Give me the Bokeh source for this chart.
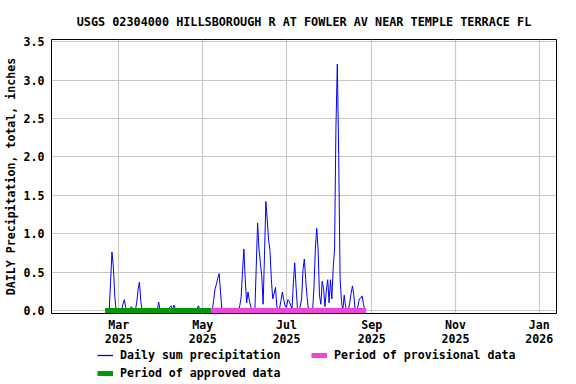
import pandas as pd
from bokeh.plotting import figure
from bokeh.layouts import column
from bokeh.models import FixedTicker, Legend, LegendItem, Range1d, NumeralTickFormatter
from bokeh.embed import file_html
from bokeh.resources import INLINE

# ---- data ----
title_text = "USGS 02304000 HILLSBOROUGH R AT FOWLER AV NEAR TEMPLE TERRACE FL"
y_label = "DAILY Precipitation, total, inches"

record_start = "2025-02-19"
record_end = "2025-08-27"

rain_dates = [
    "2025-02-23", "2025-02-24", "2025-02-25", "2025-02-26",
    "2025-03-04", "2025-03-05", "2025-03-06", "2025-03-10", "2025-03-11",
    "2025-03-14", "2025-03-15", "2025-03-16", "2025-03-17", "2025-03-30",
    "2025-04-07", "2025-04-08", "2025-04-10", "2025-04-11", "2025-04-27", "2025-04-28",
    "2025-05-09", "2025-05-10", "2025-05-11", "2025-05-12", "2025-05-13", "2025-05-14",
    "2025-05-28", "2025-05-29", "2025-05-30", "2025-05-31", "2025-06-01", "2025-06-02",
    "2025-06-03", "2025-06-04", "2025-06-05",
    "2025-06-09", "2025-06-10", "2025-06-11", "2025-06-12", "2025-06-13", "2025-06-14",
    "2025-06-15", "2025-06-16", "2025-06-17", "2025-06-18", "2025-06-19", "2025-06-20",
    "2025-06-21", "2025-06-22", "2025-06-23", "2025-06-24",
    "2025-06-26", "2025-06-27", "2025-06-28", "2025-06-29", "2025-06-30", "2025-07-01",
    "2025-07-02", "2025-07-03", "2025-07-04", "2025-07-05", "2025-07-06", "2025-07-07",
    "2025-07-08", "2025-07-09",
    "2025-07-11", "2025-07-12", "2025-07-13", "2025-07-14", "2025-07-15", "2025-07-16",
    "2025-07-21", "2025-07-22", "2025-07-23", "2025-07-24", "2025-07-25", "2025-07-26",
    "2025-07-27", "2025-07-28", "2025-07-29", "2025-07-30", "2025-07-31", "2025-08-01",
    "2025-08-02", "2025-08-03", "2025-08-04", "2025-08-05", "2025-08-06", "2025-08-07",
    "2025-08-08", "2025-08-09", "2025-08-10", "2025-08-12", "2025-08-13",
    "2025-08-16", "2025-08-17", "2025-08-18", "2025-08-19",
    "2025-08-22", "2025-08-23", "2025-08-24", "2025-08-25", "2025-08-26",
]
rain_values = [
    0.38, 0.76, 0.57, 0.20,
    0.08, 0.14, 0.04, 0.05, 0.03,
    0.10, 0.27, 0.37, 0.12, 0.11,
    0.04, 0.06, 0.07, 0.03, 0.03, 0.06,
    0.13, 0.28, 0.34, 0.42, 0.48, 0.24,
    0.06, 0.17, 0.51, 0.80, 0.40, 0.10,
    0.24, 0.13, 0.05,
    0.57, 1.14, 0.80, 0.62, 0.45, 0.08,
    0.72, 1.42, 1.18, 0.92, 0.78, 0.40,
    0.15, 0.22, 0.30, 0.05,
    0.03, 0.13, 0.24, 0.14, 0.06, 0.04,
    0.14, 0.12, 0.07, 0.02, 0.35, 0.62,
    0.30, 0.02,
    0.05, 0.15, 0.53, 0.67, 0.40, 0.17,
    0.30, 0.80, 1.07, 0.80, 0.20, 0.08,
    0.38, 0.28, 0.05, 0.26, 0.40, 0.10,
    0.40, 0.15, 0.55, 0.80, 2.39, 3.21,
    2.03, 0.43, 0.12, 0.20, 0.05,
    0.10, 0.22, 0.32, 0.20,
    0.05, 0.15, 0.16, 0.19, 0.09,
]

approved_period = ["2025-02-19", "2025-05-07"]
provisional_period = ["2025-05-07", "2025-08-28"]

tick_dates = ["2025-03-01", "2025-05-01", "2025-07-01", "2025-09-01", "2025-11-01", "2026-01-01"]
tick_labels = ["Mar\n2025", "May\n2025", "Jul\n2025", "Sep\n2025", "Nov\n2025", "Jan\n2026"]
y_ticks = [0.0, 0.5, 1.0, 1.5, 2.0, 2.5, 3.0, 3.5]

legend_labels = ["Daily sum precipitation", "Period of approved data", "Period of provisional data"]

x_start, x_end = "2025-01-11", "2026-01-13 12:00"
y_start, y_end = -0.04, 3.53

BLUE, GREEN, PINK = "#0000FF", "#009900", "#EE44DD"

# ---- build daily series ----
daily = pd.Series(0.0, index=pd.date_range(record_start, record_end, freq="D"))
daily.loc[pd.to_datetime(rain_dates)] = rain_values

def ms(d):
    return pd.Timestamp(d).value // 10**6

FONT = "DejaVu Sans Mono"
FS = "11.6px"

p = figure(frame_width=505, frame_height=274, x_axis_type="datetime",
           output_backend="svg", toolbar_location=None,
           x_range=Range1d(ms(x_start), ms(x_end)),
           y_range=Range1d(y_start, y_end),
           min_border_left=43, min_border_right=12, min_border_top=39, min_border_bottom=32)

p.title.text = title_text
p.title.align = "center"
p.title.text_font = FONT
p.title.text_font_size = "11.8px"
p.title.text_font_style = "bold"
p.title.text_color = "black"
p.title.standoff = 21

p.line(daily.index, daily.values, line_color=BLUE, line_width=1)
p.line([pd.Timestamp(d) for d in approved_period], [0, 0], line_color=GREEN, line_width=5)
p.line([pd.Timestamp(d) for d in provisional_period], [0, 0], line_color=PINK, line_width=5)

tick_ms = [ms(d) for d in tick_dates]
p.xaxis.ticker = FixedTicker(ticks=tick_ms)
p.xaxis.major_label_overrides = {t: l for t, l in zip(tick_ms, tick_labels)}
p.yaxis.ticker = FixedTicker(ticks=y_ticks)
p.yaxis.formatter = NumeralTickFormatter(format="0.0")
p.yaxis.axis_label = y_label

for ax in (p.xaxis[0], p.yaxis[0]):
    ax.major_label_text_font = FONT
    ax.major_label_text_font_size = FS
    ax.major_label_text_font_style = "bold"
    ax.major_label_text_color = "black"
    ax.major_label_text_line_height = 1.05
    ax.axis_label_text_font = FONT
    ax.axis_label_text_font_size = FS
    ax.axis_label_text_font_style = "bold"
    ax.axis_label_text_color = "black"
    ax.axis_line_color = None
    ax.major_tick_line_color = None
    ax.minor_tick_line_color = None
    ax.major_tick_out = 0
    ax.major_tick_in = 0
    ax.minor_tick_out = 0
    ax.minor_tick_in = 0
p.xaxis.major_label_standoff = 4
p.yaxis.major_label_standoff = 7
p.yaxis.axis_label_standoff = 3

p.outline_line_color = "black"
p.outline_line_width = 1
p.xgrid.grid_line_color = "#C8C8C8"
p.ygrid.grid_line_color = "#C8C8C8"
p.xgrid.grid_line_width = 1.2
p.ygrid.grid_line_width = 1.2

# ---- legend strip below the chart (swatch renderers lie outside its visible range) ----
lf = figure(width=560, height=31, output_backend="svg", toolbar_location=None,
            x_range=Range1d(0, 1), y_range=Range1d(0, 1),
            x_axis_location=None, y_axis_location=None, min_border=0)
lf.outline_line_color = None
lf.grid.visible = False
r_line = lf.line([5, 6], [5, 5], line_color=BLUE, line_width=1.3)
r_green = lf.line([5, 6], [5, 5], line_color=GREEN, line_width=5)
r_pink = lf.line([5, 6], [5, 5], line_color=PINK, line_width=5)

legend = Legend(items=[
    LegendItem(label=legend_labels[0], renderers=[r_line]),
    LegendItem(label=legend_labels[1], renderers=[r_green]),
    LegendItem(label=legend_labels[2], renderers=[r_pink]),
], orientation="vertical", nrows=2, location=(46, 0))
legend.label_text_font = FONT
legend.label_text_font_size = FS
legend.label_text_font_style = "bold"
legend.label_text_color = "black"
legend.border_line_color = None
legend.background_fill_alpha = 0
legend.glyph_width = 16
legend.glyph_height = 12
legend.label_height = 12
legend.label_width = 187
legend.label_standoff = 7
legend.spacing = 4
legend.padding = 0
legend.margin = 0
lf.add_layout(legend)

layout = column(p, lf, spacing=0)
open("out.html", "w").write(file_html(layout, INLINE))
